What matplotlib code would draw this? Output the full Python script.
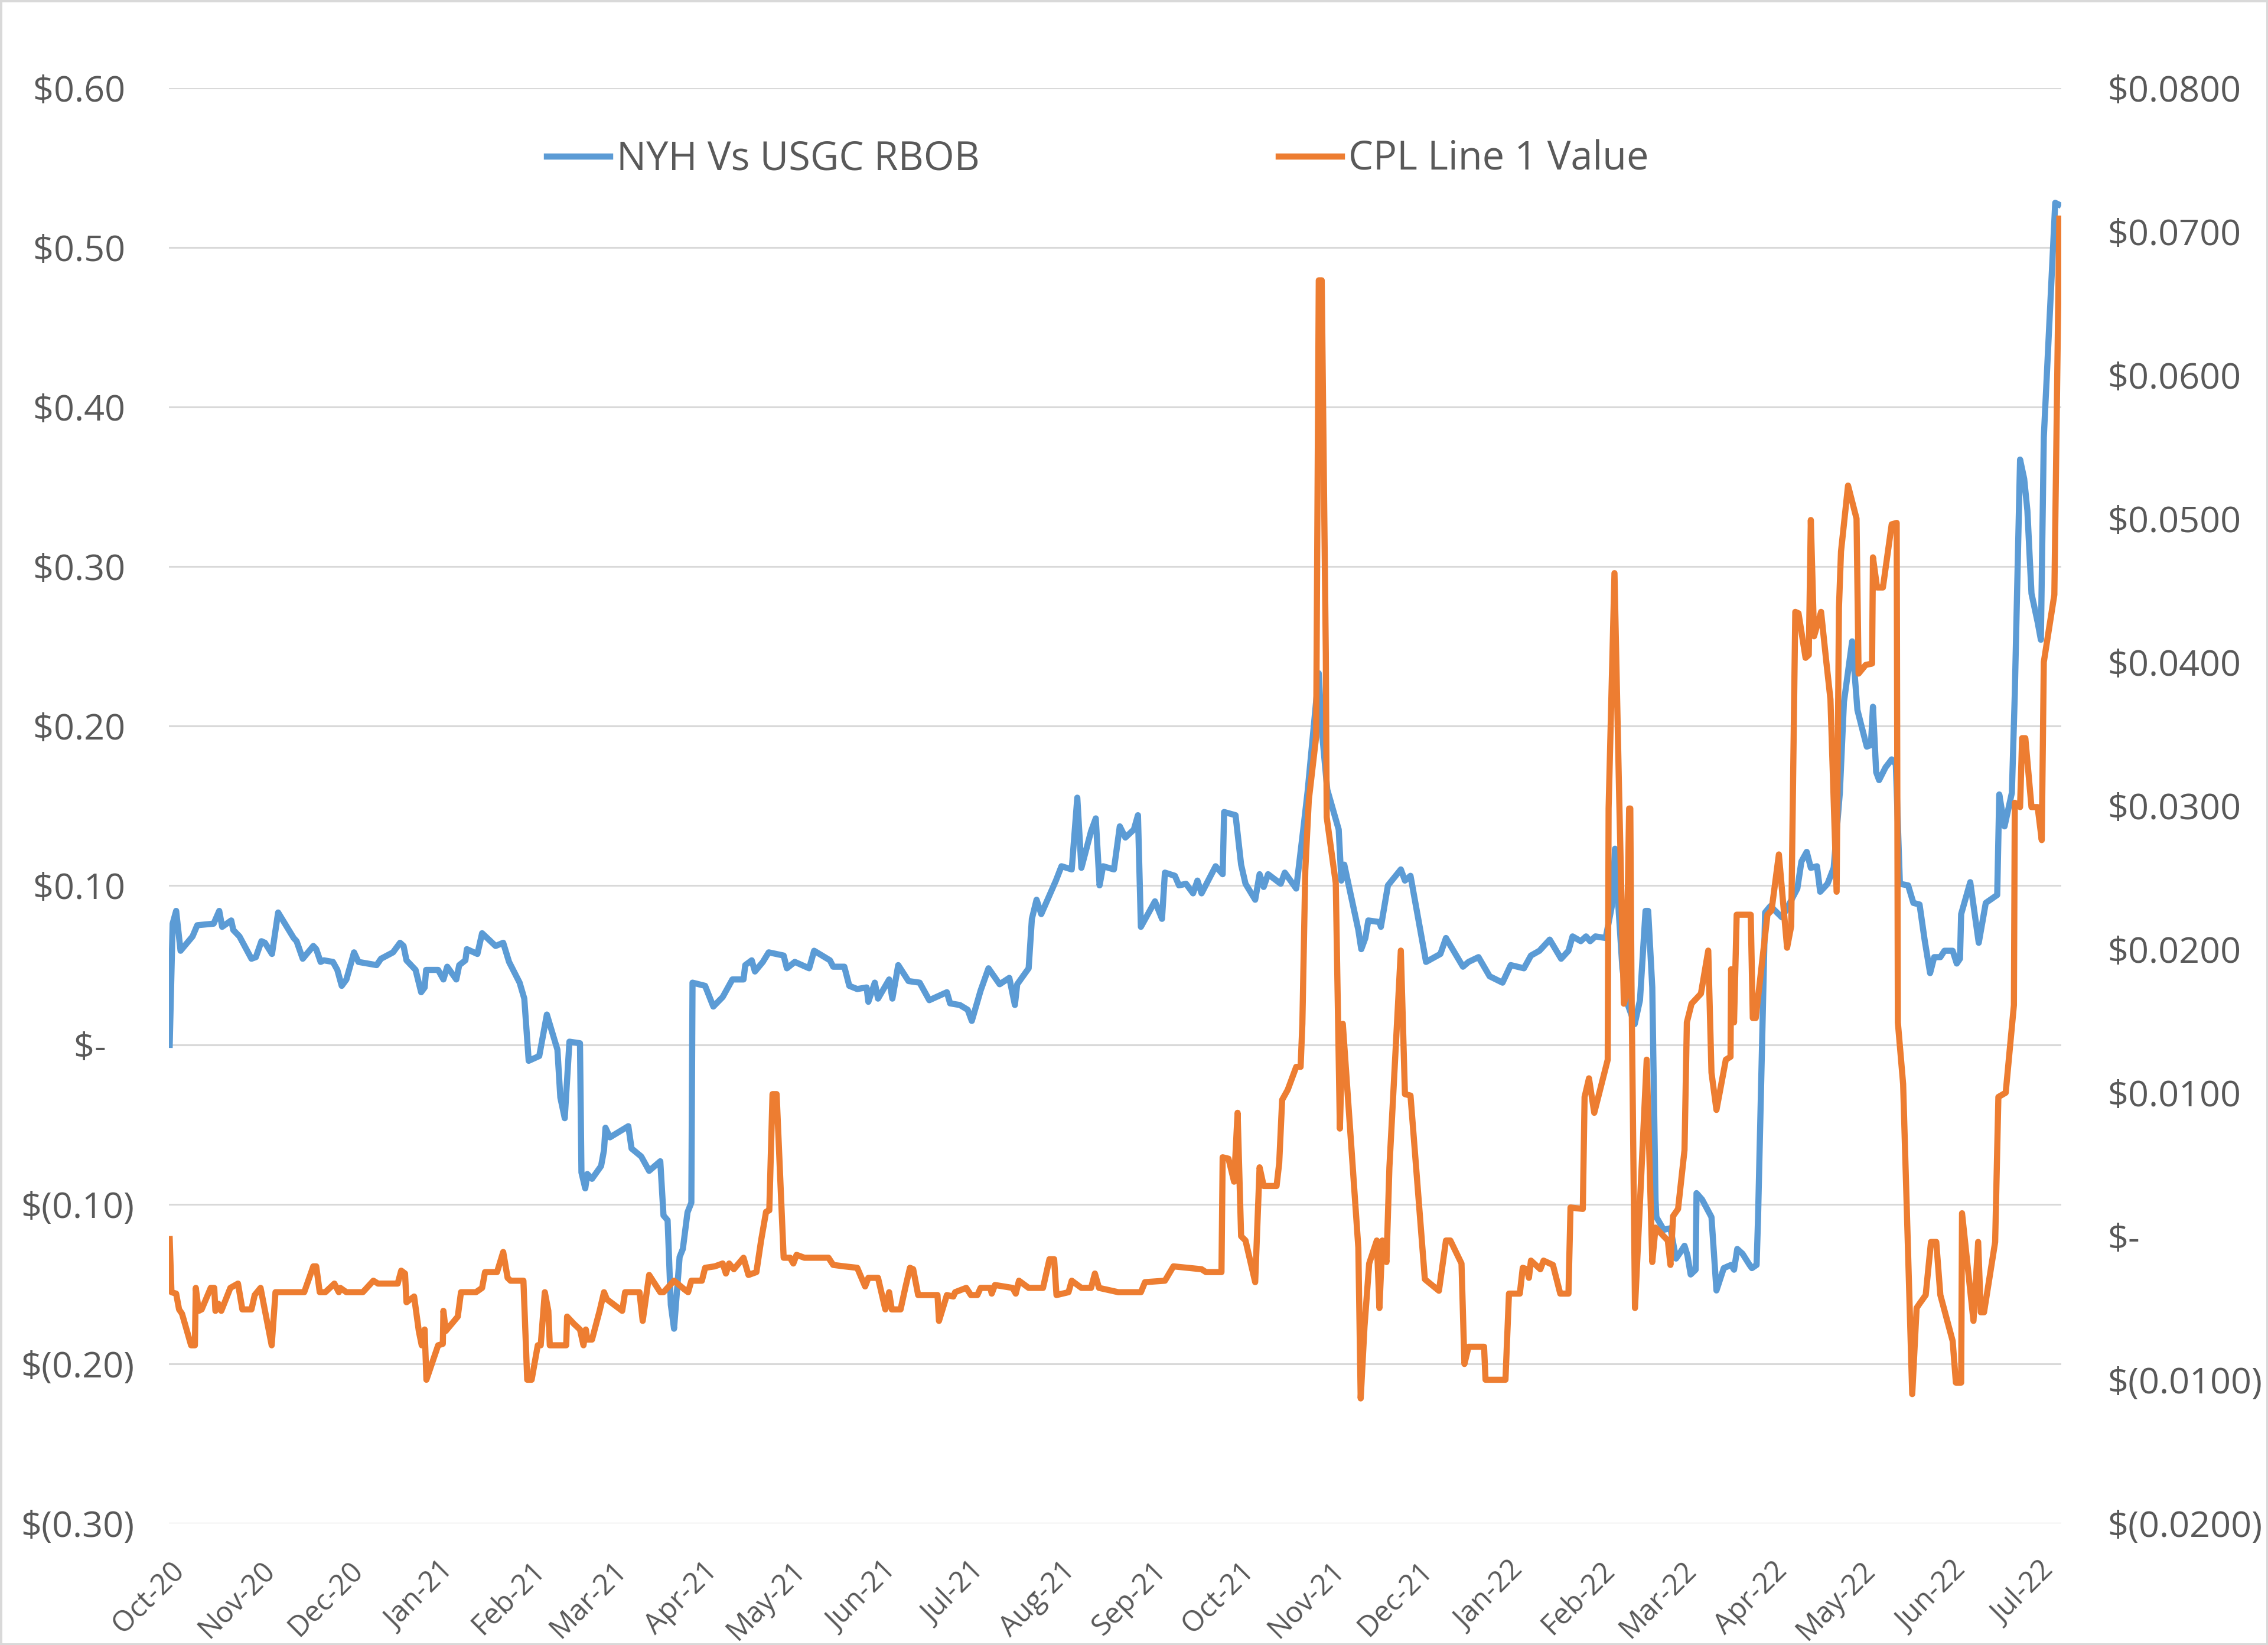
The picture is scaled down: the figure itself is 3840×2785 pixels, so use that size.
import matplotlib
matplotlib.use("Agg")
import matplotlib.pyplot as plt
import matplotlib.dates as mdates
import pandas as pd
from matplotlib.patches import Rectangle
from matplotlib.ticker import FuncFormatter, MultipleLocator

plt.rcParams["font.family"] = ["Open Sans", "DejaVu Sans"]

# x values are days counted from 1 Oct 2020
START = pd.Timestamp("2020-10-01")
END_DAY = 645.5

nyh_day = [
    0, 1, 2.2, 3.7, 7.8, 9.4, 15.0, 16.9, 17.9, 21.0, 21.7, 23.8, 27.9, 29.4, 31.3, 32.5,
    34.9, 37.0, 42.3, 43.3, 45.4, 49.0, 50.0, 51.5, 52.6, 55.7, 57.2, 58.7, 60.3, 62.9,
    64.4, 70.6, 72.1, 76.2, 78.6, 79.8, 80.8, 83.9, 85.8, 87.0, 87.5, 91.6, 93.4, 94.7,
    97.8, 98.8, 100.9, 101.4, 105.0, 106.6, 111.2, 113.8, 115.8, 119.4, 121.0, 122.5,
    126.1, 128.7, 132.3, 133.3, 134.8, 136.4, 140.0, 140.5, 141.8, 142.5, 144.1, 147.2,
    148.2, 148.7, 150.2, 153.8, 156.5, 157.6, 160.9, 163.6, 167.4, 168.5, 169.9, 171.0,
    172.1, 174.0, 175.1, 176.7, 178.0, 178.4, 182.7, 185.5, 188.7, 192.0, 195.8, 196.4,
    198.6, 199.7, 202.4, 204.4, 209.5, 210.6, 213.3, 218.2, 219.9, 225.3, 226.4, 230.2,
    231.9, 234.6, 237.8, 238.4, 240.6, 241.7, 245.5, 246.6, 248.6, 252.1, 255.9, 259.2,
    265.2, 266.3, 269.6, 272.3, 273.7, 276.7, 279.4, 283.2, 286.5, 288.4, 289.2, 293.1,
    294.2, 295.8, 297.4, 302.4, 304.3, 307.8, 309.7, 311.1, 314.4, 316.0, 317.3, 318.5,
    322.2, 324.2, 326.1, 329.0, 330.4, 331.4, 336.2, 338.6, 339.6, 343.0, 344.4, 346.8,
    349.2, 350.7, 352.1, 356.9, 359.3, 359.8, 363.7, 365.6, 367.1, 370.4, 371.9, 373.3,
    374.8, 379.1, 380.5, 384.4, 386.8, 388.3, 392.1, 393.1, 395.0, 398.9, 399.8, 400.8,
    405.6, 406.6, 408.0, 409.0, 412.8, 413.3, 415.7, 420.1, 421.5, 423.4, 428.7, 433.6,
    435.5, 441.3, 443.2, 446.6, 448.5, 450.4, 454.8, 457.6, 462.1, 464.5, 467.4, 470.9,
    474.8, 477.3, 478.7, 481.5, 483.3, 484.7, 486.5, 490.0, 492.1, 493.2, 494.2, 495.7,
    497.4, 499.9, 501.7, 503.6, 504.5, 505.9, 507.0, 507.3, 509.8, 512.1, 514.0, 515.5,
    516.9, 517.9, 519.0, 520.7, 521.0, 522.9, 526.1, 527.8, 530.3, 532.8, 533.8, 534.9,
    536.7, 539.1, 539.9, 541.5, 542.0, 544.4, 546.2, 550.1, 551.7, 555.4, 556.8, 558.6,
    560.0, 562.1, 563.2, 565.7, 567.8, 569.9, 571.3, 574.1, 575.9, 577.0, 579.1, 580.5,
    581.2, 582.3, 583.3, 585.5, 587.6, 589.0, 590.4, 593.2, 595.0, 597.1, 598.9, 600.7,
    602.1, 604.2, 605.6, 608.4, 609.8, 610.9, 611.3, 614.4, 617.3, 619.7, 623.6, 624.3,
    626.1, 628.6, 629.6, 631.4, 632.8, 633.9, 635.3, 637.4, 638.5, 639.5, 642.7, 643.4,
    644.5,
]
nyh_value = [
    0.000, 0.076, 0.084, 0.059, 0.068, 0.075, 0.076, 0.084, 0.074, 0.078, 0.072, 0.068,
    0.054, 0.055, 0.065, 0.064, 0.057, 0.083, 0.067, 0.065, 0.054, 0.062, 0.060, 0.052,
    0.053, 0.052, 0.047, 0.037, 0.041, 0.058, 0.052, 0.050, 0.054, 0.058, 0.064, 0.062,
    0.053, 0.047, 0.033, 0.036, 0.047, 0.047, 0.041, 0.049, 0.041, 0.050, 0.053, 0.060,
    0.057, 0.070, 0.062, 0.064, 0.052, 0.039, 0.029, -0.010, -0.007, 0.019, -0.003,
    -0.033, -0.046, 0.002, 0.001, -0.080, -0.090, -0.081, -0.084, -0.076, -0.066, -0.052,
    -0.058, -0.054, -0.051, -0.065, -0.070, -0.079, -0.073, -0.107, -0.110, -0.163,
    -0.178, -0.133, -0.128, -0.105, -0.099, 0.039, 0.037, 0.024, 0.030, 0.041, 0.041,
    0.050, 0.053, 0.046, 0.052, 0.058, 0.056, 0.048, 0.052, 0.048, 0.059, 0.053, 0.049,
    0.049, 0.037, 0.035, 0.036, 0.027, 0.039, 0.029, 0.041, 0.029, 0.050, 0.040, 0.039,
    0.028, 0.033, 0.026, 0.025, 0.022, 0.015, 0.034, 0.048, 0.038, 0.042, 0.025, 0.038,
    0.048, 0.079, 0.091, 0.082, 0.103, 0.112, 0.110, 0.155, 0.111, 0.134, 0.142, 0.100,
    0.112, 0.110, 0.137, 0.130, 0.135, 0.144, 0.074, 0.090, 0.079, 0.108, 0.106, 0.100,
    0.101, 0.095, 0.103, 0.095, 0.112, 0.107, 0.146, 0.144, 0.113, 0.101, 0.091, 0.107,
    0.099, 0.107, 0.101, 0.108, 0.098, 0.135, 0.159, 0.233, 0.198, 0.160, 0.135, 0.103,
    0.113, 0.072, 0.060, 0.067, 0.078, 0.077, 0.074, 0.100, 0.110, 0.103, 0.106, 0.052,
    0.057, 0.067, 0.049, 0.052, 0.055, 0.049, 0.043, 0.039, 0.050, 0.048, 0.056, 0.059,
    0.066, 0.054, 0.059, 0.068, 0.065, 0.068, 0.065, 0.068, 0.067, 0.087, 0.123, 0.091,
    0.048, 0.026, 0.013, 0.028, 0.084, 0.084, 0.036, -0.097, -0.108, -0.116, -0.115,
    -0.134, -0.130, -0.126, -0.132, -0.144, -0.141, -0.093, -0.097, -0.108, -0.154,
    -0.140, -0.138, -0.141, -0.128, -0.131, -0.138, -0.140, -0.138, -0.108, 0.083, 0.087,
    0.080, 0.085, 0.098, 0.115, 0.121, 0.111, 0.112, 0.096, 0.101, 0.111, 0.158, 0.215,
    0.253, 0.210, 0.202, 0.187, 0.188, 0.212, 0.171, 0.166, 0.174, 0.179, 0.176, 0.101,
    0.100, 0.089, 0.088, 0.065, 0.045, 0.055, 0.055, 0.059, 0.059, 0.051, 0.054, 0.082,
    0.102, 0.064, 0.089, 0.094, 0.157, 0.137, 0.158, 0.220, 0.367, 0.355, 0.335, 0.283,
    0.265, 0.254, 0.381, 0.501, 0.528, 0.527,
]

cpl_day = [
    0, 0.6, 2.2, 3.2, 4.2, 7.3, 8.6, 8.9, 9.9, 10.9, 14.0, 15.2, 15.6, 16.6, 17.6, 20.7,
    23.3, 24.8, 27.9, 29.0, 31.0, 34.8, 36.1, 45.9, 49.0, 50.0, 51.2, 53.1, 56.2, 57.7,
    58.2, 60.3, 65.9, 69.5, 71.1, 77.8, 79.0, 80.3, 80.8, 83.4, 85.0, 86.0, 87.0, 87.6,
    91.6, 93.2, 93.4, 94.2, 98.3, 99.4, 104.5, 106.6, 107.6, 111.7, 113.8, 115.3, 116.3,
    120.7, 122.0, 123.5, 125.6, 126.6, 128.0, 129.2, 129.7, 135.3, 135.6, 137.9, 140.0,
    141.2, 142.0, 142.5, 144.1, 146.7, 148.2, 149.2, 151.8, 154.4, 155.4, 160.3, 161.4,
    163.6, 167.4, 168.5, 172.1, 175.6, 176.9, 178.0, 181.6, 182.7, 186.0, 188.7, 189.8,
    190.9, 192.5, 195.8, 197.5, 200.2, 201.8, 203.5, 204.6, 205.7, 207.1, 209.5, 211.7,
    212.8, 213.9, 216.6, 224.8, 226.4, 230.2, 234.6, 237.3, 238.4, 241.7, 244.2, 245.5,
    246.4, 249.4, 251.0, 252.6, 253.7, 255.4, 262.0, 262.5, 265.2, 267.4, 268.0, 271.8,
    273.4, 275.6, 276.7, 280.0, 280.5, 281.6, 287.6, 288.7, 289.8, 293.1, 298.0, 300.2,
    301.8, 302.6, 306.7, 307.8, 311.1, 314.4, 315.7, 317.1, 323.7, 331.4, 332.8, 339.6,
    342.5, 352.1, 353.6, 358.9, 359.3, 361.3, 363.2, 364.4, 365.6, 367.1, 370.4, 371.9,
    373.3, 377.7, 378.6, 379.6, 381.5, 384.4, 385.9, 386.5, 387.5, 388.7, 391.2, 392.1,
    393.1, 394.5, 394.8, 397.9, 399.3, 400.3, 405.6, 406.4, 407.7, 409.3, 411.9, 412.8,
    413.8, 415.2, 416.2, 420.1, 421.5, 423.4, 428.3, 433.1, 435.5, 437.0, 440.8, 441.8,
    443.2, 448.5, 449.0, 455.8, 457.0, 460.7, 461.7, 463.1, 463.8, 464.5, 467.7, 468.8,
    472.0, 474.5, 477.3, 478.0, 482.2, 482.8, 484.3, 486.1, 490.7, 491.0, 493.0, 494.6,
    496.2, 497.0, 498.0, 498.4, 498.8, 500.0, 504.0, 505.9, 507.0, 511.2, 512.1, 513.0,
    514.7, 516.9, 517.7, 519.3, 522.5, 525.0, 526.1, 527.8, 531.0, 532.6, 532.8, 533.8,
    534.7, 539.5, 540.2, 541.2, 545.2, 546.6, 549.1, 551.9, 553.3, 554.7, 555.8, 558.2,
    559.3, 560.0, 561.1, 563.5, 565.3, 566.7, 568.8, 569.6, 570.3, 572.7, 575.6, 576.3,
    578.7, 580.9, 581.2, 582.6, 584.6, 587.6, 589.3, 589.7, 591.5, 594.6, 596.1, 597.1,
    599.2, 601.0, 602.8, 604.2, 608.4, 609.5, 611.3, 611.6, 615.5, 617.1, 618.0, 619.1,
    622.9, 624.0, 626.5, 629.3, 629.6, 631.4, 632.1, 633.2, 635.3, 637.4, 638.8, 639.5,
    643.1, 644.8,
]
cpl_value = [
    -0.0002, -0.0039, -0.0040, -0.0051, -0.0054, -0.0076, -0.0076, -0.0036, -0.0052,
    -0.0051, -0.0036, -0.0036, -0.0052, -0.0047, -0.0052, -0.0036, -0.0033, -0.0051,
    -0.0051, -0.0041, -0.0036, -0.0076, -0.0039, -0.0039, -0.0021, -0.0021, -0.0039,
    -0.0039, -0.0033, -0.0039, -0.0036, -0.0039, -0.0039, -0.0031, -0.0033, -0.0033,
    -0.0024, -0.0026, -0.0046, -0.0042, -0.0066, -0.0076, -0.0065, -0.0100, -0.0076,
    -0.0075, -0.0052, -0.0066, -0.0056, -0.0039, -0.0039, -0.0036, -0.0025, -0.0025,
    -0.0011, -0.0029, -0.0031, -0.0031, -0.0100, -0.0100, -0.0076, -0.0076, -0.0039,
    -0.0052, -0.0076, -0.0076, -0.0056, -0.0061, -0.0065, -0.0076, -0.0065, -0.0072,
    -0.0072, -0.0052, -0.0039, -0.0044, -0.0048, -0.0052, -0.0039, -0.0039, -0.0059,
    -0.0027, -0.0039, -0.0039, -0.0031, -0.0037, -0.0039, -0.0031, -0.0031, -0.0022,
    -0.0021, -0.0019, -0.0026, -0.0019, -0.0023, -0.0015, -0.0027, -0.0025, -0.0003,
    0.0017, 0.0018, 0.0099, 0.0099, -0.0015, -0.0015, -0.0019, -0.0013, -0.0015,
    -0.0015, -0.0020, -0.0021, -0.0022, -0.0035, -0.0029, -0.0029, -0.0051, -0.0039,
    -0.0051, -0.0051, -0.0036, -0.0022, -0.0023, -0.0041, -0.0041, -0.0059, -0.0041,
    -0.0042, -0.0039, -0.0036, -0.0041, -0.0041, -0.0036, -0.0036, -0.0040, -0.0034,
    -0.0036, -0.0040, -0.0031, -0.0036, -0.0036, -0.0016, -0.0016, -0.0041, -0.0039,
    -0.0031, -0.0036, -0.0036, -0.0026, -0.0036, -0.0039, -0.0039, -0.0032, -0.0031,
    -0.0021, -0.0023, -0.0025, -0.0025, 0.0055, 0.0054, 0.0038, 0.0086, 0.0000, -0.0003,
    -0.0032, 0.0048, 0.0035, 0.0035, 0.0051, 0.0095, 0.0102, 0.0118, 0.0118, 0.0148,
    0.0255, 0.0304, 0.0348, 0.0666, 0.0666, 0.0406, 0.0292, 0.0246, 0.0075, 0.0148,
    -0.0008, -0.0113, -0.0063, -0.0019, -0.0003, -0.0050, -0.0003, -0.0018, 0.0048,
    0.0199, 0.0099, 0.0098, -0.0030, -0.0038, -0.0003, -0.0003, -0.0019, -0.0089,
    -0.0077, -0.0077, -0.0100, -0.0100, -0.0040, -0.0040, -0.0022, -0.0023, -0.0029,
    -0.0017, -0.0023, -0.0017, -0.0020, -0.0040, -0.0040, 0.0020, 0.0019, 0.0097,
    0.0110, 0.0086, 0.0123, 0.0298, 0.0462, 0.0307, 0.0162, 0.0168, 0.0298, 0.0298,
    0.0177, -0.0050, 0.0123, -0.0018, 0.0006, -0.0003, -0.0020, 0.0014, 0.0019, 0.0060,
    0.0149, 0.0162, 0.0169, 0.0199, 0.0114, 0.0088, 0.0123, 0.0125, 0.0186, 0.0149,
    0.0224, 0.0224, 0.0152, 0.0152, 0.0224, 0.0227, 0.0266, 0.0201, 0.0216, 0.0435,
    0.0434, 0.0403, 0.0405, 0.0499, 0.0418, 0.0435, 0.0400, 0.0374, 0.0240, 0.0438,
    0.0477, 0.0523, 0.0500, 0.0392, 0.0398, 0.0399, 0.0473, 0.0452, 0.0452, 0.0496,
    0.0497, 0.0149, 0.0106, -0.0110, -0.0050, -0.0047, -0.0041, -0.0004, -0.0004,
    -0.0041, -0.0073, -0.0102, -0.0102, 0.0016, -0.0059, -0.0004, -0.0053, -0.0053,
    -0.0004, 0.0097, 0.0100, 0.0161, 0.0302, 0.0299, 0.0347, 0.0347, 0.0299, 0.0299,
    0.0276, 0.0400, 0.0447, 0.0709,
]

nyh_label = "NYH Vs USGC RBOB"
cpl_label = "CPL Line 1 Value"

BLUE = "#5B9BD5"
ORANGE = "#ED7D31"
TEXT = "#595959"
GRID = "#D9D9D9"


def to_dates(days):
    return START + pd.to_timedelta(days, unit="D")


def money_left(v, pos):
    if abs(v) < 1e-9:
        return "$-   "
    if v < 0:
        return f"$({abs(v):.2f})"
    return f"${v:.2f} "


def money_right(v, pos):
    if abs(v) < 1e-9:
        return "$-"
    if v < 0:
        return f"$({abs(v):.4f})"
    return f"${v:.4f}"


fig = plt.figure(figsize=(38.4, 27.85), dpi=100)
ax = fig.add_axes([0.0745, 0.0740, 0.8344, 0.8725])
ax2 = ax.twinx()

l1, = ax.plot(to_dates(nyh_day), nyh_value, color=BLUE, lw=7.5,
              solid_joinstyle="round", label=nyh_label)
l2, = ax2.plot(to_dates(cpl_day), cpl_value, color=ORANGE, lw=7.5,
               solid_joinstyle="round", label=cpl_label)

ax.set_xlim(START - pd.Timedelta(hours=6), START + pd.Timedelta(days=END_DAY))
ax.set_ylim(-0.3, 0.6)
ax2.set_ylim(-0.02, 0.08)
ax.yaxis.set_major_locator(MultipleLocator(0.1))
ax2.yaxis.set_major_locator(MultipleLocator(0.01))
ax.yaxis.set_major_formatter(FuncFormatter(money_left))
ax2.yaxis.set_major_formatter(FuncFormatter(money_right))

ax.xaxis.set_major_locator(mdates.MonthLocator())
ax.xaxis.set_major_formatter(mdates.DateFormatter("%b-%y"))

ax.grid(axis="y", color=GRID, lw=2.2)
ax.grid(axis="x", visible=False)
ax.set_axisbelow(True)
for a in (ax, ax2):
    for s in a.spines.values():
        s.set_visible(False)

ax.tick_params(axis="y", length=0, pad=42, labelsize=44, labelcolor=TEXT)
ax2.tick_params(axis="y", length=0, pad=56, labelsize=44, labelcolor=TEXT)
ax.tick_params(axis="x", length=0, pad=40, labelsize=35, labelcolor=TEXT)
for lab in ax.get_xticklabels():
    lab.set_rotation(45)
    lab.set_ha("right")
    lab.set_va("top")
    lab.set_rotation_mode("anchor")

fig.legend(handles=[l1, l2], loc="center", bbox_to_anchor=(0.4841, 0.903), ncol=2,
           frameon=False, fontsize=48, labelcolor=TEXT, handlelength=1.6,
           handletextpad=0.17, columnspacing=7.6)

fig.patches.append(Rectangle((0, 0), 1, 1, transform=fig.transFigure, fill=False,
                             edgecolor=GRID, linewidth=5))

fig.savefig("out.png", dpi=100)
